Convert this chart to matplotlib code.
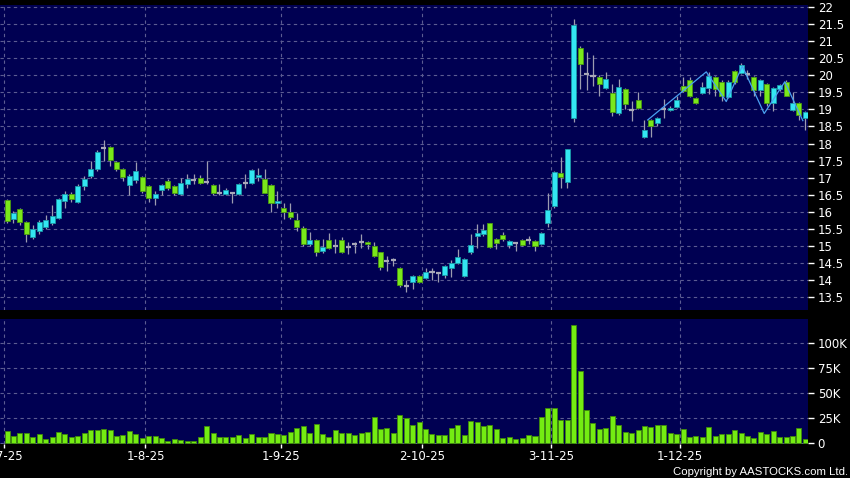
import numpy as np
import matplotlib
matplotlib.use('Agg')
import matplotlib.pyplot as plt

plt.rcParams['font.family'] = ['DejaVu Sans']

# daily OHLC, 2 Jul 2025 .. 30 Dec 2025 (trading days)
opens = [16.34, 15.78, 16.07, 15.69, 15.27, 15.43, 15.56, 15.66, 15.83, 16.31,
         16.51, 16.30, 16.74, 17.06, 17.24, 17.86, 17.89, 17.45, 17.24, 16.79,
         16.93, 17.01, 16.75, 16.41, 16.63, 16.90, 16.75, 16.51, 16.80, 16.92,
         16.98, 16.86, 16.77, 16.54, 16.53, 16.54, 16.52, 16.83, 16.83, 17.01,
         16.95, 16.78, 16.25, 16.11, 16.00, 15.75, 15.51, 15.06, 15.16, 14.86,
         15.16, 14.99, 15.16, 14.95, 15.04, 15.10, 15.11, 15.01, 14.81, 14.55,
         14.58, 14.36, 13.82, 13.95, 14.13, 14.05, 14.22, 14.19, 14.14, 14.34,
         14.51, 14.13, 14.83, 15.30, 15.35, 15.66, 15.20, 15.31, 15.03, 15.09,
         15.16, 15.17, 15.15, 15.04, 15.68, 16.17, 17.13, 16.88, 18.74, 20.79,
         20.04, 19.96, 19.96, 19.64, 19.47, 18.90, 19.59, 18.98, 19.29, 18.18,
         18.69, 18.61, 19.01, 18.99, 19.06, 19.68, 19.86, 19.32, 19.47, 19.62,
         19.94, 19.81, 19.37, 20.13, 20.08, 20.04, 19.94, 19.57, 19.73, 19.20,
         19.59, 19.81, 18.98, 19.20, 18.76]
highs = [16.38, 16.02, 16.10, 15.72, 15.60, 15.75, 15.90, 16.20, 16.40, 16.60,
         16.58, 16.80, 17.05, 17.50, 17.80, 18.10, 17.92, 17.50, 17.28, 17.10,
         17.45, 17.05, 16.78, 16.60, 16.80, 16.95, 16.78, 17.00, 17.10, 17.12,
         17.08, 17.50, 16.80, 16.80, 16.70, 16.56, 16.85, 17.10, 17.25, 17.28,
         17.25, 16.80, 16.60, 16.25, 16.25, 15.95, 15.58, 15.40, 15.20, 15.20,
         15.38, 15.20, 15.25, 15.10, 15.10, 15.35, 15.14, 15.10, 14.83, 14.70,
         14.65, 14.39, 14.00, 14.15, 14.15, 14.35, 14.35, 14.22, 14.43, 14.60,
         14.90, 14.64, 15.35, 15.65, 15.65, 15.68, 15.22, 15.40, 15.16, 15.12,
         15.20, 15.30, 15.18, 15.40, 16.55, 17.20, 17.60, 17.84, 21.64, 20.85,
         20.68, 20.60, 20.00, 20.10, 19.75, 19.90, 19.62, 19.25, 19.50, 18.70,
         18.72, 18.78, 19.30, 19.10, 19.40, 19.95, 19.95, 19.36, 19.80, 20.10,
         19.98, 19.85, 19.85, 20.16, 20.35, 20.15, 19.97, 19.90, 19.76, 19.65,
         19.75, 19.85, 19.50, 19.23, 18.96]
lows = [15.68, 15.67, 15.60, 15.12, 15.20, 15.35, 15.50, 15.62, 15.80, 16.10,
        16.30, 16.25, 16.65, 17.00, 17.20, 17.50, 17.35, 17.20, 16.90, 16.50,
        16.85, 16.55, 16.28, 16.20, 16.50, 16.65, 16.50, 16.48, 16.70, 16.80,
        16.80, 16.80, 16.50, 16.50, 16.50, 16.25, 16.48, 16.70, 16.80, 16.90,
        16.55, 16.00, 16.10, 15.80, 15.80, 15.45, 15.00, 15.00, 14.70, 14.80,
        14.92, 14.80, 14.78, 14.76, 14.80, 14.95, 14.90, 14.66, 14.30, 14.25,
        14.40, 13.80, 13.65, 13.75, 13.90, 14.02, 14.00, 13.95, 14.05, 14.10,
        14.48, 14.10, 14.75, 14.95, 15.30, 14.95, 14.90, 15.15, 14.95, 14.85,
        15.00, 15.05, 14.85, 15.02, 15.55, 16.10, 16.70, 16.70, 18.62, 19.60,
        19.58, 19.70, 19.40, 19.60, 18.80, 18.85, 19.00, 18.65, 19.02, 18.15,
        18.20, 18.50, 18.75, 18.95, 19.03, 19.50, 19.35, 19.15, 19.44, 19.45,
        19.40, 19.25, 19.33, 19.75, 20.05, 19.90, 19.40, 19.40, 19.10, 18.95,
        19.55, 19.38, 18.95, 18.70, 18.40]
closes = [15.74, 15.95, 15.69, 15.34, 15.48, 15.69, 15.76, 15.87, 16.36, 16.51,
          16.36, 16.75, 16.95, 17.24, 17.75, 17.88, 17.52, 17.24, 17.01, 17.05,
          17.18, 16.61, 16.41, 16.51, 16.77, 16.70, 16.56, 16.83, 16.95, 16.94,
          16.85, 16.87, 16.54, 16.55, 16.63, 16.55, 16.81, 16.84, 17.22, 17.08,
          16.56, 16.25, 16.31, 16.00, 15.84, 15.56, 15.04, 15.16, 14.81, 14.96,
          14.95, 15.00, 14.81, 14.96, 15.05, 15.11, 15.04, 14.69, 14.39, 14.56,
          14.59, 13.84, 13.83, 14.11, 13.95, 14.22, 14.23, 14.20, 14.41, 14.51,
          14.67, 14.62, 15.03, 15.37, 15.46, 14.98, 15.07, 15.19, 15.13, 15.10,
          15.03, 15.18, 14.99, 15.37, 16.05, 17.17, 17.01, 17.84, 21.47, 20.32,
          20.05, 19.97, 19.74, 19.88, 18.93, 19.65, 19.15, 18.99, 19.05, 18.40,
          18.52, 18.75, 19.02, 19.05, 19.28, 19.55, 19.40, 19.20, 19.65, 19.98,
          19.59, 19.39, 19.81, 19.81, 20.30, 20.05, 19.57, 19.86, 19.20, 19.62,
          19.71, 19.40, 19.18, 18.84, 18.93]
# volume in thousands of shares
volumes = [12, 7.3, 10, 9.7, 6.3, 8.7, 4, 6, 10.7, 9.3,
           6.3, 7.3, 9.7, 13.3, 13, 13.7, 12.7, 7.3, 8.3, 12,
           8.7, 5, 7, 7.3, 4.7, 2, 4, 3, 2.3, 2,
           5.7, 16.7, 10.3, 6.3, 6, 6.3, 8, 5.3, 9.3, 6.3,
           6.3, 9.7, 9, 8.3, 11.3, 15, 17, 9.7, 18.7, 9,
           6, 12.7, 10.3, 9.7, 8, 9.7, 11, 26, 14, 15,
           10.3, 28.3, 24.7, 17.7, 20.7, 14, 9, 8, 8, 15,
           18, 8.3, 22, 20.7, 17.3, 18, 13.7, 5, 6, 4.3,
           5, 8, 7.3, 25.7, 35, 35, 23.3, 23.3, 118, 71.7,
           33, 20.3, 14, 15.3, 27, 18, 11, 9.7, 13, 16.7,
           16, 17.7, 18.3, 10, 9, 14, 6.3, 7, 6, 16.3,
           7.3, 9.3, 9.3, 13, 10, 7.3, 5, 11, 9.3, 12,
           6.3, 6.3, 7.3, 15.3, 3.7]

# month boundaries (trading-day index) and their labels
month_pos = [-0.5, 21.5, 42.5, 64.5, 84.5, 104.5]
month_labels = ['2-7-25', '1-8-25', '1-9-25', '2-10-25', '3-11-25', '1-12-25']

# hand-drawn trend line (day index, price)
line_idx = [99.5, 108.6, 111.7, 114.2, 117.6, 120.8, 123.6]
line_val = [18.69, 20.10, 19.23, 20.27, 18.88, 19.81, 18.67]

price_ticks = np.arange(13.5, 22.01, 0.5)
vol_ticks = [0, 25, 50, 75, 100]

BG = '#000052'
UP, UP_EDGE = '#33e6f2', '#1a9aa8'
DOWN, DOWN_EDGE = '#7ae81a', '#4a9a10'
DOJI = '#a8a8b8'
WICK = '#9c9cb0'
GRID = '#5c5c92'

o = np.array(opens); h = np.array(highs); l = np.array(lows); c = np.array(closes)
x = np.arange(len(o))

fig = plt.figure(figsize=(8.5, 4.78), dpi=100, facecolor='black')
ax = fig.add_axes([0, 1 - 310 / 478, 808 / 850, 305 / 478])
axv = fig.add_axes([0, 1 - 444 / 478, 808 / 850, 125 / 478])

for a in (ax, axv):
    a.set_facecolor(BG)
    for s in a.spines.values():
        s.set_visible(False)
    a.yaxis.tick_right()
    a.tick_params(axis='y', colors='white', length=4, width=1, labelsize=8.5, pad=3)
    a.set_xlim(-1.09, 124.4)
    a.set_xticks(month_pos)
    a.grid(True, color=GRID, linestyle=(0, (3, 3)), linewidth=0.8)
    a.set_axisbelow(True)

# candles
ax.vlines(x, l, h, color=WICK, linewidth=0.9, zorder=2)
up = c - o >= 0.03
down = o - c >= 0.03
doji = ~(up | down)
ax.bar(x[up], (c - o)[up], bottom=o[up], width=0.78, color=UP,
       edgecolor=UP_EDGE, linewidth=0.6, zorder=3)
ax.bar(x[down], (o - c)[down], bottom=c[down], width=0.78, color=DOWN,
       edgecolor=DOWN_EDGE, linewidth=0.6, zorder=3)
ax.hlines(((o + c) / 2)[doji], x[doji] - 0.4, x[doji] + 0.4, color=DOJI,
          linewidth=1.6, zorder=3)
ax.plot(line_idx, line_val, color='#4aa0f0', linewidth=0.9, zorder=4)

ax.set_ylim(13.12, 22.06)
ax.set_yticks(price_ticks)
ax.set_yticklabels(['%g' % t for t in price_ticks])
ax.tick_params(axis='x', length=0, labelbottom=False)

# volume
axv.bar(x, volumes, width=0.78, color='#74ec12', edgecolor='#3f8a0a',
        linewidth=0.6, zorder=3)
axv.set_ylim(-1, 124)
axv.set_yticks(vol_ticks)
axv.set_yticklabels(['0' if v == 0 else '%dK' % v for v in vol_ticks])
axv.set_xticklabels(month_labels)
axv.tick_params(axis='x', colors='white', length=3, width=1, labelsize=8.5, pad=1)

fig.text(0.998, 0.002, 'Copyright by AASTOCKS.com Ltd.', color='white',
         fontsize=8.2, ha='right', va='bottom',
         family=['Liberation Sans', 'DejaVu Sans'])

fig.savefig('out.png', dpi=100, facecolor='black')
